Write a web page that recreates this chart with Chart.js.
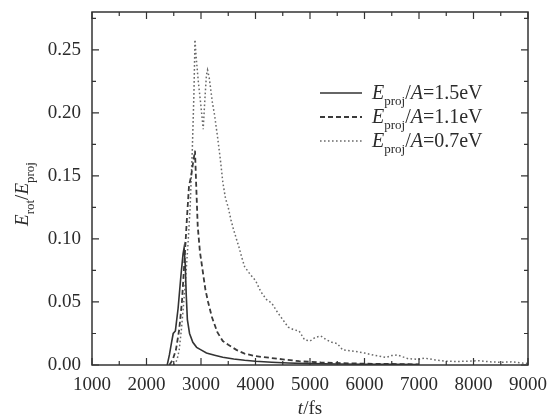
<!DOCTYPE html>
<html>
<head>
<meta charset="utf-8">
<script src="https://cdn.jsdelivr.net/npm/chart.js@4"></script>
<style>
  html, body { margin: 0; padding: 0; background: #fff; }
  #wrap { width: 554px; height: 418px; }
</style>
</head>
<body>
<div id="wrap"><canvas id="chart" width="554" height="418"></canvas></div>
<script>
// E_proj/A = 1.5 eV (solid)
const t15 = [2380, 2420, 2460, 2490, 2530, 2580, 2630, 2670, 2690, 2710, 2730, 2750, 2790, 2850, 2920, 3000, 3100, 3250, 3400, 3600, 3800, 4000, 4300, 4600, 5000, 5500, 6000, 6500, 7000];
const v15 = [0, 0.008, 0.018, 0.025, 0.027, 0.045, 0.07, 0.088, 0.093, 0.08, 0.055, 0.036, 0.025, 0.018, 0.014, 0.012, 0.0095, 0.0078, 0.0062, 0.0048, 0.0038, 0.003, 0.0022, 0.0016, 0.0011, 0.0008, 0.0006, 0.0005, 0.0004];

// E_proj/A = 1.1 eV (dashed)
const t11 = [2420, 2480, 2540, 2600, 2650, 2700, 2740, 2780, 2820, 2860, 2890, 2910, 2940, 2980, 3030, 3080, 3130, 3200, 3300, 3400, 3500, 3650, 3800, 4000, 4200, 4500, 4800, 5200, 5600, 6000, 6500, 7000];
const v11 = [0, 0.004, 0.012, 0.028, 0.05, 0.085, 0.115, 0.142, 0.15, 0.162, 0.17, 0.145, 0.11, 0.09, 0.075, 0.06, 0.05, 0.038, 0.026, 0.019, 0.016, 0.012, 0.009, 0.007, 0.006, 0.0045, 0.003, 0.002, 0.0015, 0.001, 0.0008, 0.0005];

// E_proj/A = 0.7 eV (dotted)
const t07 = [2500, 2560, 2600, 2640, 2680, 2720, 2760, 2800, 2840, 2870, 2890, 2910, 2950, 3000, 3040, 3070, 3100, 3120, 3150, 3180, 3210, 3250, 3300, 3350, 3400, 3450, 3500, 3550, 3600, 3650, 3700, 3750, 3800, 3900, 4000, 4100, 4200, 4300, 4400, 4500, 4600, 4700, 4800, 4900, 5000, 5100, 5200, 5300, 5400, 5500, 5600, 5800, 6000, 6200, 6400, 6500, 6600, 6800, 7000, 7100, 7300, 7500, 7700, 7900, 8100, 8300, 8500, 8700, 8900, 9000];
const v07 = [0, 0.004, 0.012, 0.028, 0.048, 0.07, 0.095, 0.125, 0.17, 0.215, 0.258, 0.245, 0.225, 0.205, 0.187, 0.21, 0.23, 0.234, 0.228, 0.218, 0.208, 0.198, 0.182, 0.165, 0.145, 0.132, 0.125, 0.115, 0.107, 0.1, 0.093, 0.085, 0.078, 0.072, 0.067, 0.058, 0.052, 0.049, 0.042, 0.036, 0.03, 0.028, 0.027, 0.02, 0.019, 0.022, 0.023, 0.02, 0.018, 0.017, 0.012, 0.011, 0.0095, 0.0075, 0.006, 0.0075, 0.008, 0.005, 0.0045, 0.0055, 0.004, 0.003, 0.0028, 0.003, 0.0034, 0.0025, 0.0022, 0.0025, 0.0015, 0.0012];

const legendLabels = ['1.5eV', '1.1eV', '0.7eV'];
const xTicks = [1000, 2000, 3000, 4000, 5000, 6000, 7000, 8000, 9000];
const yTicks = [0, 0.05, 0.1, 0.15, 0.2, 0.25];

const serif = "'Liberation Serif', 'DejaVu Serif', serif";
const ink = '#2b2b2b';

const styles = [
    { color: '#333', width: 1.6, dash: [] },
    { color: '#3a3a3a', width: 1.8, dash: [5, 3] },
    { color: '#6a6a6a', width: 1.5, dash: [1.6, 2.4] },
];

function toPoints(ts, vs) {
    return ts.map((t, i) => ({ x: t, y: vs[i] }));
}

// draw text pieces with italics and subscripts, centred on x
function drawRich(ctx, parts, x, y, size) {
    const subSize = Math.round(size * 0.66);
    const fontOf = p => (p.it ? 'italic ' : '') + (p.sub ? subSize : size) + 'px ' + serif;
    let total = 0;
    parts.forEach(p => { ctx.font = fontOf(p); total += ctx.measureText(p.t).width; });
    let cx = x - total / 2;
    ctx.textBaseline = 'alphabetic';
    ctx.textAlign = 'left';
    parts.forEach(p => {
        ctx.font = fontOf(p);
        ctx.fillText(p.t, cx, y + (p.sub ? size * 0.3 : 0));
        cx += ctx.measureText(p.t).width;
    });
    return total;
}

function richWidth(ctx, parts, size) {
    const subSize = Math.round(size * 0.66);
    let w = 0;
    parts.forEach(p => {
        ctx.font = (p.it ? 'italic ' : '') + (p.sub ? subSize : size) + 'px ' + serif;
        w += ctx.measureText(p.t).width;
    });
    return w;
}

const framePlugin = {
    id: 'frame',
    afterDraw(chart) {
        const ctx = chart.ctx;
        const a = chart.chartArea;
        const xs = chart.scales.x, ys = chart.scales.y;
        ctx.save();
        ctx.strokeStyle = '#333';
        ctx.lineWidth = 1.5;
        ctx.setLineDash([]);
        ctx.strokeRect(a.left, a.top, a.right - a.left, a.bottom - a.top);

        // inward ticks on all four sides
        ctx.lineWidth = 1.2;
        ctx.beginPath();
        for (let v = 1000; v <= 9000; v += 500) {
            const px = xs.getPixelForValue(v);
            const len = v % 1000 === 0 ? 7 : 4;
            ctx.moveTo(px, a.bottom); ctx.lineTo(px, a.bottom - len);
            ctx.moveTo(px, a.top); ctx.lineTo(px, a.top + len);
        }
        for (let i = 0; i <= 11; i++) {
            const py = ys.getPixelForValue(i * 0.025);
            const len = i % 2 === 0 ? 7 : 4;
            ctx.moveTo(a.left, py); ctx.lineTo(a.left + len, py);
            ctx.moveTo(a.right, py); ctx.lineTo(a.right - len, py);
        }
        ctx.stroke();

        ctx.fillStyle = ink;
        // x title
        drawRich(ctx, [{ t: 't', it: true }, { t: '/fs' }], (a.left + a.right) / 2, 414, 19);
        // y title
        ctx.save();
        ctx.translate(28, 194);
        ctx.rotate(-Math.PI / 2);
        drawRich(ctx, [{ t: 'E', it: true }, { t: 'rot', sub: true }, { t: '/' }, { t: 'E', it: true }, { t: 'proj', sub: true }], 0, 0, 19);
        ctx.restore();

        // legend
        const rows = [99, 123, 147];
        legendLabels.forEach((lab, i) => {
            const st = styles[i];
            ctx.strokeStyle = st.color;
            ctx.lineWidth = st.width;
            ctx.setLineDash(st.dash);
            ctx.beginPath();
            ctx.moveTo(320, rows[i] - 6);
            ctx.lineTo(362, rows[i] - 6);
            ctx.stroke();
            ctx.setLineDash([]);
            const parts = [{ t: 'E', it: true }, { t: 'proj', sub: true }, { t: '/' }, { t: 'A', it: true }, { t: '=' + lab }];
            const w = richWidth(ctx, parts, 20);
            drawRich(ctx, parts, 372 + w / 2, rows[i], 20);
        });
        ctx.restore();
    },
};

new Chart(document.getElementById('chart'), {
    type: 'line',
    data: {
        datasets: [
            { data: toPoints(t15, v15) },
            { data: toPoints(t11, v11) },
            { data: toPoints(t07, v07) },
        ].map((ds, i) => Object.assign(ds, {
            label: legendLabels[i],
            borderColor: styles[i].color,
            borderWidth: styles[i].width,
            borderDash: styles[i].dash,
            pointRadius: 0,
            tension: 0,
            fill: false,
        })),
    },
    options: {
        responsive: false,
        animation: false,
        devicePixelRatio: 1,
        layout: { padding: { left: 0, top: 12, right: 26, bottom: 0 } },
        plugins: { legend: { display: false }, tooltip: { enabled: false } },
        scales: {
            x: {
                type: 'linear',
                min: 1000,
                max: 9000,
                afterBuildTicks(s) { s.ticks = xTicks.map(v => ({ value: v })); },
                afterFit(s) { s.height = 53; s.paddingLeft = 0; s.paddingRight = 0; },
                grid: { display: false, drawTicks: false },
                border: { display: false },
                ticks: { color: ink, font: { family: serif, size: 19 }, padding: 9, maxRotation: 0, callback: v => String(v) },
            },
            y: {
                min: 0,
                max: 0.28,
                afterBuildTicks(s) { s.ticks = yTicks.map(v => ({ value: v })); },
                afterFit(s) { s.width = 92; s.paddingTop = 0; s.paddingBottom = 0; },
                grid: { display: false, drawTicks: false },
                border: { display: false },
                ticks: { color: ink, font: { family: serif, size: 19 }, padding: 11, callback: v => v.toFixed(2) },
            },
        },
    },
    plugins: [framePlugin],
});
</script>
</body>
</html>
